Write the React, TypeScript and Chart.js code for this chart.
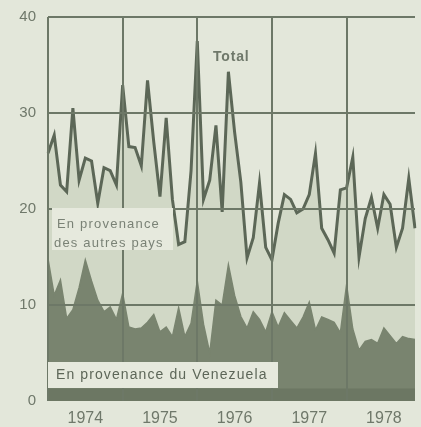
import React, { useEffect, useRef } from 'react';
import { Chart, registerables } from 'chart.js';

Chart.register(...registerables);

const YEARS = ['1974', '1975', '1976', '1977', '1978'];
const MONTHS = ['01', '02', '03', '04', '05', '06', '07', '08', '09', '10', '11', '12'];
const Y_TICKS = [0, 10, 20, 30, 40];

// Total imports (monthly)
const TOTAL = [
  25.8, 27.7, 22.5, 21.8, 30.5, 23.0, 25.3, 25.0, 20.6, 24.3, 24.0, 22.5,
  32.9, 26.5, 26.4, 24.5, 33.4, 27.0, 21.3, 29.5, 21.0, 16.3, 16.6, 24.0,
  37.5, 21.0, 23.0, 28.7, 19.7, 34.3, 28.0, 22.8, 14.9, 17.0, 22.7, 16.0,
  14.7, 18.5, 21.5, 21.0, 19.6, 20.0, 21.5, 25.8, 18.0, 16.8, 15.4, 22.0,
  22.2, 25.4, 15.0, 19.0, 21.2, 18.0, 21.5, 20.5, 16.0, 18.0, 23.2, 18.0,
];

// From Venezuela (monthly)
const VENEZUELA = [
  14.8, 11.0, 12.6, 8.6, 9.5, 11.8, 14.7, 12.5, 10.5, 9.3, 9.8, 8.5,
  11.2, 7.7, 7.5, 7.6, 8.2, 9.0, 7.2, 7.7, 6.7, 9.7, 6.7, 8.1,
  12.5, 8.0, 5.0, 10.5, 10.0, 14.2, 11.0, 8.8, 7.6, 9.3, 8.5, 7.2,
  9.3, 7.7, 9.2, 8.4, 7.6, 8.75, 10.3, 7.4, 8.75, 8.5, 8.2, 7.1,
  12.1, 7.5, 5.3, 6.2, 6.4, 6.0, 7.6, 6.8, 6.0, 6.7, 6.5, 6.4,
];

const LABEL_TOTAL = 'Total';
const LABEL_OTHERS = ['En provenance', 'des autres pays'];
const LABEL_VEN = 'En provenance du Venezuela';

const BG = '#e3e7da';
const LIGHT = '#d1d8c6';
const DARK = '#79846f';
const LINE = '#5c6757';
const GRID = '#6d7867';
const TEXT = '#6f786a';
const FONT = '"Liberation Sans", Arial, sans-serif';

export default function App() {
  const ref = useRef<HTMLCanvasElement | null>(null);

  useEffect(() => {
    document.body.style.margin = '0';
    document.body.style.background = BG;
    const canvas = ref.current;
    if (!canvas) return;

    const labels: string[] = [];
    YEARS.forEach((y) => MONTHS.forEach((m) => labels.push(`${y}-${m}`)));

    const bgPlugin = {
      id: 'bg',
      beforeDraw(chart: any) {
        const ctx = chart.ctx;
        ctx.save();
        ctx.fillStyle = BG;
        ctx.fillRect(0, 0, chart.width, chart.height);
        ctx.restore();
      },
      afterDatasetsDraw(chart: any) {
        const { ctx, chartArea } = chart;
        const y = chart.scales.y;
        const top = y.getPixelForValue(1.3);
        ctx.save();
        ctx.fillStyle = 'rgba(70,80,65,0.25)';
        ctx.fillRect(chartArea.left, top, chartArea.right - chartArea.left, y.getPixelForValue(0) - top);
        ctx.restore();
      },
    };

    const textPlugin = {
      id: 'texts',
      afterDraw(chart: any) {
        const { ctx, chartArea } = chart;
        const L = chartArea.left;
        const T = chartArea.top;
        ctx.save();
        ctx.textBaseline = 'middle';
        ctx.textAlign = 'left';
        // Total
        ctx.fillStyle = TEXT;
        ctx.font = `bold 14px ${FONT}`;
        (ctx as any).letterSpacing = '0.8px';
        ctx.fillText(LABEL_TOTAL, L + 165, T + 40);

        // Others box
        ctx.fillStyle = '#e6e9dd';
        ctx.fillRect(L + 4, T + 191, 121, 42);
        ctx.fillStyle = '#7a8276';
        ctx.font = `13px ${FONT}`;
        (ctx as any).letterSpacing = '1.2px';
        ctx.fillText(LABEL_OTHERS[0], L + 9, T + 207);
        ctx.fillText(LABEL_OTHERS[1], L + 6, T + 226);

        // Venezuela box
        ctx.fillStyle = '#e6e9dd';
        ctx.fillRect(L, T + 345, 230, 26);
        ctx.fillStyle = '#5d6658';
        ctx.font = `14px ${FONT}`;
        (ctx as any).letterSpacing = '1.1px';
        ctx.fillText(LABEL_VEN, L + 8, T + 358);
        ctx.restore();
      },
    };

    const chart = new Chart(canvas, {
      type: 'line',
      data: {
        labels,
        datasets: [
          {
            label: 'Venezuela',
            data: VENEZUELA,
            borderColor: DARK,
            backgroundColor: DARK,
            borderWidth: 1.5,
            fill: 'origin',
            pointRadius: 0,
            tension: 0,
          },
          {
            label: 'Total',
            data: TOTAL,
            borderColor: LINE,
            backgroundColor: LIGHT,
            borderWidth: 3,
            fill: 'origin',
            pointRadius: 0,
            tension: 0,
          },
        ],
      },
      options: {
        responsive: false,
        animation: false,
        layout: { padding: { left: 0, right: 6, top: 17, bottom: 0 } },
        plugins: { legend: { display: false }, tooltip: { enabled: false } },
        scales: {
          x: {
            type: 'category',
            offset: false,
            grid: {
              z: 1,
              drawTicks: false,
              tickLength: 0,
              lineWidth: 2,
              color: (c: any) => (c.index % 12 === 0 ? GRID : 'rgba(0,0,0,0)'),
            },
            border: { display: false },
            ticks: {
              autoSkip: false,
              maxRotation: 0,
              padding: 8,
              color: TEXT,
              font: { family: FONT, size: 16 },
              callback: (_v: any, i: number) => (i % 12 === 6 ? YEARS[Math.floor(i / 12)] : ''),
            },
            afterFit: (s: any) => {
              s.height = 26;
              s.paddingLeft = 0;
              s.paddingRight = 0;
            },
          },
          y: {
            min: 0,
            max: 40,
            afterBuildTicks: (s: any) => {
              s.ticks = Y_TICKS.map((v) => ({ value: v }));
            },
            grid: {
              z: 1,
              drawTicks: false,
              tickLength: 0,
              lineWidth: 2,
              color: (c: any) => (c.tick && c.tick.value === 0 ? 'rgba(0,0,0,0)' : GRID),
            },
            border: { display: false },
            ticks: {
              padding: 12,
              color: TEXT,
              font: { family: FONT, size: 15 },
            },
            afterFit: (s: any) => {
              s.width = 48;
              s.paddingTop = 0;
              s.paddingBottom = 0;
            },
          },
        },
      },
      plugins: [bgPlugin, textPlugin],
    });

    return () => chart.destroy();
  }, []);

  return (
    <div style={{ position: 'fixed', left: 0, top: 0, width: 421, height: 427, background: BG }}>
      <canvas ref={ref} width={421} height={427} style={{ display: 'block', width: 421, height: 427 }} />
    </div>
  );
}
